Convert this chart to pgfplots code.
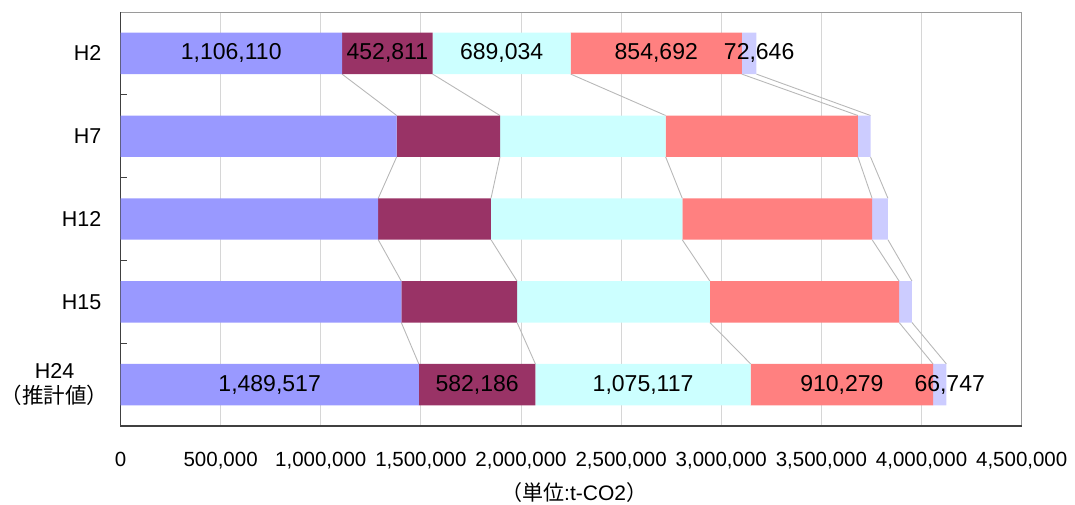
\documentclass[border=0pt]{standalone}
\usepackage{fontspec}
\setmainfont{Liberation Sans}
\newfontfamily\cjk{Noto Sans CJK JP}
\usepackage{pgfplots}
\usepackage{pgfplotstable}
\pgfplotsset{compat=1.18}

\definecolor{sA}{HTML}{9999FF}
\definecolor{sB}{HTML}{993366}
\definecolor{sC}{HTML}{CCFFFF}
\definecolor{sD}{HTML}{FF8080}
\definecolor{sE}{HTML}{CCCCFF}
\definecolor{gridgray}{HTML}{D6D6D6}
\definecolor{framegray}{HTML}{9A9A9A}
\definecolor{axisdark}{HTML}{404040}
\definecolor{linkgray}{HTML}{B8B8B8}

% CO2 emissions by sector (t-CO2); lab = 1 where the values are printed
\pgfplotstableread{
y lab a b c d e
0 1 1106110 452811 689034 854692 72646
1 0 1379000 516000 827000 960000 63000
2 0 1287000 563000 955000 948000 79000
3 0 1402000 578000 963000 945000 64000
4 1 1489517 582186 1075117 910279 66747
}\emissions

% cumulative sum of the first #2 sectors in row #1, stored in #3
\newcommand\cumsum[3]{%
  \def\acc{0}%
  \ifnum#2>0 \pgfplotstablegetelem{#1}{a}\of\emissions\edef\acc{\fpeval{\acc+\pgfplotsretval}}\fi
  \ifnum#2>1 \pgfplotstablegetelem{#1}{b}\of\emissions\edef\acc{\fpeval{\acc+\pgfplotsretval}}\fi
  \ifnum#2>2 \pgfplotstablegetelem{#1}{c}\of\emissions\edef\acc{\fpeval{\acc+\pgfplotsretval}}\fi
  \ifnum#2>3 \pgfplotstablegetelem{#1}{d}\of\emissions\edef\acc{\fpeval{\acc+\pgfplotsretval}}\fi
  \ifnum#2>4 \pgfplotstablegetelem{#1}{e}\of\emissions\edef\acc{\fpeval{\acc+\pgfplotsretval}}\fi
  \let#3\acc
}

\pgfplotsset{
  base/.style={
    width=901.2pt, height=414pt, scale only axis,
    at={(0,0)}, anchor=south west,
    xmin=0, xmax=4500000, ymin=-0.5, ymax=4.5,
    enlargelimits=false, y dir=reverse,
  },
  numfmt/.style={/pgf/number format/fixed, /pgf/number format/precision=0,
    /pgf/number format/1000 sep={,}, /pgf/number format/assume math mode=true},
  vallabel/.style={draw=none, mark=none, skip coords between index={1}{4}},
}

\begin{document}
\begin{tikzpicture}
\useasboundingbox (-120.5pt,-79pt) rectangle (954.5pt,426pt);

% frame, grid, tick labels and the series lines between bars
\begin{axis}[base,
  axis line style={framegray, line width=1pt},
  scaled ticks=false,
  xtick={0,500000,1000000,1500000,2000000,2500000,3000000,3500000,4000000,4500000},
  xticklabel style={numfmt, anchor=north, inner sep=0pt, yshift=-26pt,
    font=\fontsize{20.5}{24}\selectfont},
  ytick={0,1,2,3,4},
  yticklabels={H2,H7,H12,H15,{H24\\{\cjk\fontsize{21.5}{25}\selectfont\kern-0.33em（推計値）\kern-0.33em}}},
  yticklabel style={align=center, anchor=east, inner sep=0pt, xshift=-19pt,
    font=\fontsize{21.5}{25}\selectfont},
  minor ytick={0.5,1.5,2.5,3.5},
  xtick pos=bottom, ytick pos=left, tick align=inside,
  major tick length=0pt, minor tick length=7pt,
  minor tick style={axisdark, line width=1pt},
  xmajorgrids, major grid style={gridgray, line width=0.9pt},
  xlabel={{\cjk （単位}:t-CO2{\cjk ）}},
  xlabel style={at={(axis description cs:0.5,0)}, anchor=center, yshift=-67pt, xshift=3pt,
    font=\fontsize{21}{25}\selectfont},
]
\pgfplotsforeachungrouped \n in {0,...,19}{%
  \pgfmathtruncatemacro\s{div(\n,4)+1}%
  \pgfmathtruncatemacro\r{mod(\n,4)}%
  \pgfmathtruncatemacro\rn{\r+1}%
  \cumsum{\r}{\s}\cA
  \cumsum{\rn}{\s}\cB
  \edef\seg{\noexpand\addplot[linkgray, line width=0.9pt, forget plot] coordinates {(\cA,\r.25) (\cB,\r.75)};}%
  \seg
}
\end{axis}

% stacked bars
\begin{axis}[base, hide axis, clip=false, xbar stacked, bar width=0.5]
\addplot[fill=sA, draw=none] table[x=a, y=y]{\emissions};
\addplot[fill=sB, draw=none] table[x=b, y=y]{\emissions};
\addplot[fill=sC, draw=none] table[x=c, y=y]{\emissions};
\addplot[fill=sD, draw=none] table[x=d, y=y]{\emissions};
\addplot[fill=sE, draw=none] table[x=e, y=y]{\emissions};
\draw[axisdark, line width=1.2pt] (axis description cs:0,1) -- (axis description cs:0,0) -- (axis description cs:1,0);
\end{axis}

% value labels on the first and last year
\begin{axis}[base, hide axis, clip=false,
  every node near coord/.append style={anchor=center, inner sep=0pt, black,
    font=\fontsize{23}{27}\selectfont},
  nodes near coords={\pgfmathprintnumber[fixed, precision=0, 1000 sep={,}, assume math mode=true]{\pgfplotspointmeta}},
  point meta=explicit,
]
\addplot[vallabel] table[x expr={\thisrow{a}/2}, y=y, meta=a]{\emissions};
\addplot[vallabel] table[x expr={\thisrow{a}+\thisrow{b}/2}, y=y, meta=b]{\emissions};
\addplot[vallabel] table[x expr={\thisrow{a}+\thisrow{b}+\thisrow{c}/2}, y=y, meta=c]{\emissions};
\addplot[vallabel] table[x expr={\thisrow{a}+\thisrow{b}+\thisrow{c}+\thisrow{d}/2}, y=y, meta=d]{\emissions};
\addplot[vallabel, every node near coord/.append style={xshift=10pt}]
  table[x expr={\thisrow{a}+\thisrow{b}+\thisrow{c}+\thisrow{d}+\thisrow{e}/2}, y=y, meta=e]{\emissions};
\end{axis}
\end{tikzpicture}
\end{document}
